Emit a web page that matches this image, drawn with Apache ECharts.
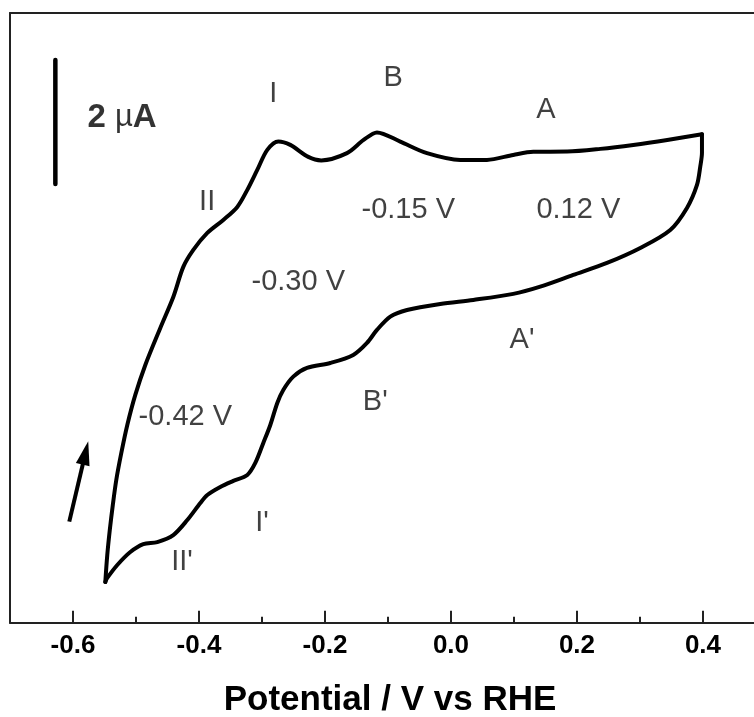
<!DOCTYPE html>
<html><head><meta charset="utf-8">
<script src="https://cdn.jsdelivr.net/npm/echarts@6/dist/echarts.min.js"></script>
<style>html,body{margin:0;padding:0;background:#fff}#c{width:754px;height:717px}</style>
</head><body><div id="c"></div>
<script>
// Anodic sweep (-0.55 V -> 0.40 V), potential in V vs RHE, current in µA (arbitrary offset)
const anodicPotential = [-0.5487,-0.5456,-0.5416,-0.5368,-0.5313,-0.5233,-0.5138,-0.5011,-0.4852,-0.4614,-0.4408,-0.4249,-0.4090,-0.3868,-0.3614,-0.3392,-0.3233,-0.3075,-0.2916,-0.2741,-0.2551,-0.2265,-0.2059,-0.1651,-0.1387,-0.1175,-0.0805,-0.0381,0.0148,0.0571,0.0989,0.1306,0.1846,0.2370,0.2894,0.3433,0.3984];
const anodicCurrent   = [0.654,1.088,1.490,1.892,2.294,2.728,3.178,3.661,4.143,4.738,5.236,5.719,5.992,6.265,6.474,6.683,6.957,7.278,7.600,7.736,7.680,7.487,7.431,7.547,7.760,7.881,7.733,7.547,7.439,7.439,7.519,7.568,7.572,7.616,7.680,7.760,7.852];
// Cathodic sweep (0.40 V -> -0.55 V)
const cathodicPotential = [0.3984,0.3984,0.3957,0.3905,0.3746,0.3481,0.3005,0.2476,0.1941,0.1417,0.0989,0.0354,-0.0170,-0.0698,-0.0963,-0.1175,-0.1333,-0.1551,-0.1916,-0.2286,-0.2503,-0.2662,-0.2757,-0.2868,-0.2979,-0.3106,-0.3233,-0.3456,-0.3662,-0.3868,-0.3979,-0.4186,-0.4408,-0.4662,-0.4884,-0.5090,-0.5297,-0.5456,-0.5487];
const cathodicCurrent   = [7.852,7.552,7.331,7.037,6.667,6.313,6.024,5.783,5.590,5.402,5.285,5.188,5.124,5.027,4.920,4.706,4.497,4.304,4.175,4.095,3.955,3.741,3.532,3.178,2.889,2.568,2.375,2.279,2.182,2.053,1.924,1.650,1.409,1.296,1.264,1.137,0.928,0.719,0.654];

// Peak annotations (anchored in data units)
const annotationTexts     = ['I','B','A','II','-0.15 V','0.12 V','-0.30 V',"A'","B'",'-0.42 V',"I'","II'"];
const annotationPotential = [-0.2821,-0.0916,0.1509,-0.3870,-0.0678,0.2021,-0.2424,0.1127,-0.1202,-0.4217,-0.3000,-0.4270];
const annotationCurrent   = [8.500,8.757,8.246,6.768,6.635,6.635,5.477,4.545,3.553,3.312,1.603,0.981];

// Scale bar (2 µA) and sweep-direction arrow
const scaleBarPotential = [-0.628,-0.628];
const scaleBarCurrent   = [7.053,9.046];
const scaleBarTextPotential = -0.5222;
const scaleBarTextCurrent = 8.114;
const arrowPotential = [-0.6059,-0.5802];
const arrowCurrent   = [1.624,2.727];

// Axis ticks
const xTickValues = [-0.6,-0.4,-0.2,0.0,0.2,0.4];
const xTickLabels = ['-0.6','-0.4','-0.2','0.0','0.2','0.4'];
const xMinorTickValues = [-0.5,-0.3,-0.1,0.1,0.3];
const xAxisTitle = 'Potential / V vs RHE';

const FONT = "'Liberation Sans', Arial, Helvetica, sans-serif";
const zip = (a,b) => a.map((v,i)=>[v,b[i]]);

const chart = echarts.init(document.getElementById('c'), null, {renderer:'canvas'});
const lineStyle = {color:'#000', width:4, cap:'round', join:'round'};
const frameLine = {show:true, onZero:false, lineStyle:{color:'#222', width:2}};
chart.setOption({
  animation:false,
  backgroundColor:'#fff',
  grid:{left:10, top:13, right:0, bottom:94.3, show:false, containLabel:false, outerBoundsMode:'none'},
  xAxis:[{
    type:'value', min:-0.7, max:0.481, position:'bottom',
    axisLine:frameLine,
    axisTick:{show:true, inside:true, length:12, customValues:xTickValues, lineStyle:{color:'#222', width:2}},
    axisLabel:{show:true, margin:10, customValues:xTickValues, fontFamily:FONT, fontWeight:'bold', fontSize:26, color:'#000',
      formatter:(v)=>{const i=xTickValues.findIndex(t=>Math.abs(t-v)<1e-6); return i>=0?xTickLabels[i]:'';}},
    splitLine:{show:false},
    name:xAxisTitle, nameLocation:'middle', nameGap:60,
    nameTextStyle:{fontFamily:FONT, fontWeight:'bold', fontSize:35, color:'#000', padding:[0,0,0,16]}
  },{
    type:'value', min:-0.7, max:0.481, position:'bottom', offset:0,
    axisLine:{show:false},
    axisTick:{show:true, inside:true, length:6, customValues:xMinorTickValues, lineStyle:{color:'#222', width:2}},
    axisLabel:{show:false}, splitLine:{show:false}
  },{
    type:'value', min:-0.7, max:0.481, position:'top',
    axisLine:frameLine, axisTick:{show:false}, axisLabel:{show:false}, splitLine:{show:false}
  }],
  yAxis:{type:'value', min:0, max:9.8, position:'left', axisLine:frameLine, axisTick:{show:false}, axisLabel:{show:false}, splitLine:{show:false}},
  series:[
    {type:'line', xAxisIndex:0, data:zip(anodicPotential, anodicCurrent), smooth:0.3, symbol:'none', lineStyle:lineStyle, silent:true},
    {type:'line', xAxisIndex:0, data:zip(cathodicPotential, cathodicCurrent), smooth:0.3, symbol:'none', lineStyle:lineStyle, silent:true},
    {type:'line', xAxisIndex:0, data:zip(scaleBarPotential, scaleBarCurrent), symbol:'none', lineStyle:{color:'#000', width:4.5, cap:'round'}, silent:true,
     markLine:{silent:true, animation:false, symbol:['none','triangle'], symbolSize:[14,24],
       lineStyle:{color:'#000', width:4, type:'solid'}, label:{show:false}, emphasis:{disabled:true},
       data:[[{coord:[arrowPotential[0], arrowCurrent[0]]},{coord:[arrowPotential[1], arrowCurrent[1]]}]]}},
    {type:'scatter', xAxisIndex:0, symbolSize:0, silent:true,
     data:annotationTexts.map((t,i)=>({value:[annotationPotential[i], annotationCurrent[i]], name:t})),
     label:{show:true, position:'inside', formatter:(p)=>p.name, fontFamily:FONT, fontSize:29, color:'#111'}},
    {type:'scatter', xAxisIndex:0, symbolSize:0, silent:true,
     data:[{value:[scaleBarTextPotential, scaleBarTextCurrent], name:'2 µA'}],
     label:{show:true, position:'inside', formatter:'{b|2 }{m|µ}{b|A}',
       rich:{b:{fontFamily:FONT, fontWeight:'bold', fontSize:33, color:'#000'}, m:{fontFamily:FONT, fontSize:31, color:'#000'}}}}
  ]
});
</script>
</body></html>
